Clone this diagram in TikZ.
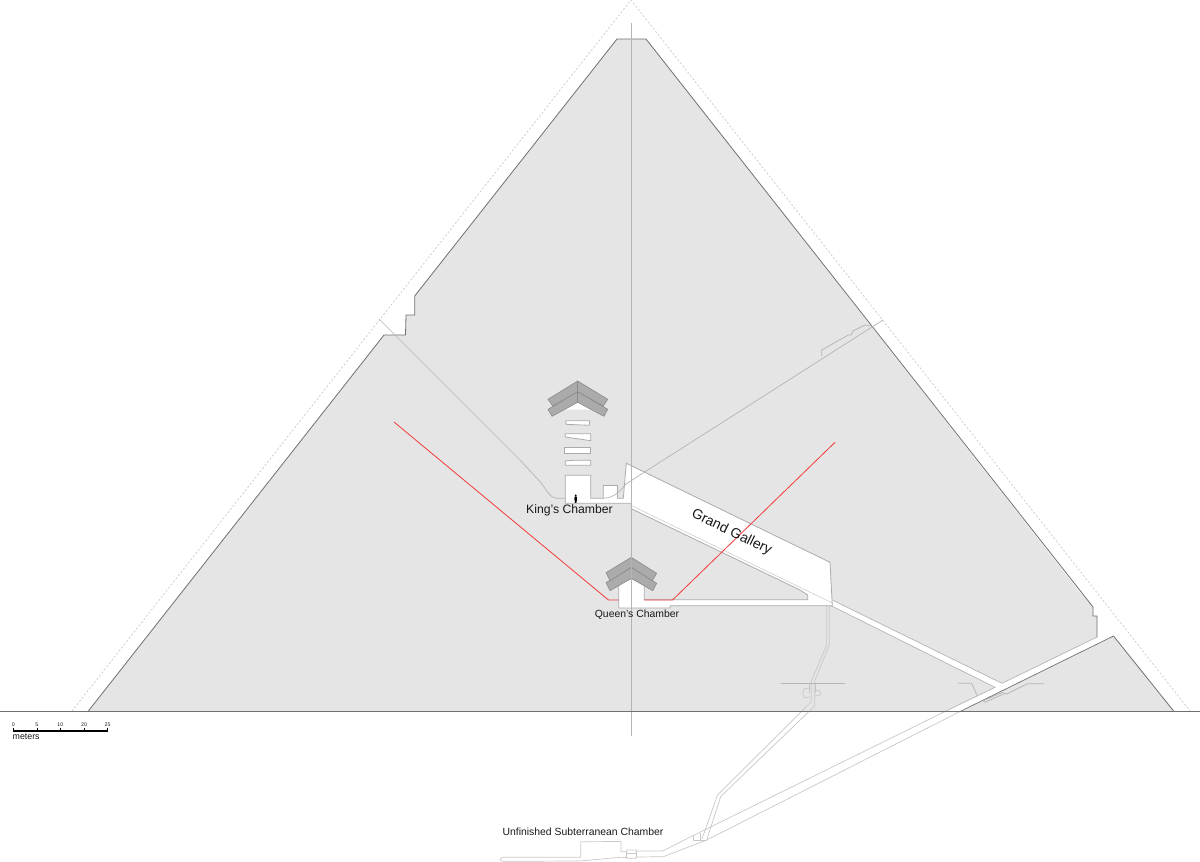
\documentclass[tikz,border=0pt]{standalone}
\usepackage{fontspec}
\setmainfont{Liberation Sans}
\definecolor{stone}{HTML}{E5E5E5}
\definecolor{edge}{HTML}{707070}
\definecolor{wall}{HTML}{ABABAB}
\definecolor{axisgray}{HTML}{B4B4B4}
\definecolor{faint}{HTML}{C8C8C8}
\definecolor{rafter}{HTML}{ABABAB}
\definecolor{raftedge}{HTML}{8A8A8A}
\definecolor{redline}{HTML}{F23A3A}
\tikzset{
 outer/.style={draw=edge,line width=0.8pt,line join=miter},
 room/.style={fill=white,draw=wall,line width=0.8pt,line join=miter},
 passage/.style={draw=faint,line width=0.7pt},
 shaft/.style={draw=axisgray,line width=0.7pt},
 raft/.style={fill=rafter,draw=raftedge,line width=0.6pt},
 lbl/.style={text=black!90,inner sep=0pt,anchor=center}
}
\begin{document}
\begin{tikzpicture}[x=1pt,y=-1pt]
\useasboundingbox (0,0) rectangle (1200,862);
% pyramid body
\fill[stone] (617,39)--(646,39)--(1078,590)--(1093,607)--(1093,616)--(1097,616)--(1097,637)--(1113.5,636)--(1174,711.5)--(88,711.5)--(384,335)--(405.5,335)--(406,315)--(414.7,315)--(414.7,296)--cycle;
% original casing
\draw[dash pattern=on 2pt off 2pt,draw=faint,line width=0.7pt] (72,711)--(631,0)--(1190,711);
% ascending and descending passage strips
\fill[white] (832.3,600)--(1002,683.3)--(1097,637)--(1113.5,636)--(960,711.5)--(945,711.5)--(995,687.3)--(831,605.7)--cycle;
\draw[outer] (88,711.5)--(384,335)--(405.5,335)--(406,315)--(414.7,315)--(414.7,296)--(617,39)--(646,39)--(1093,607)--(1093,616)--(1097,616)--(1097,637);
\draw[outer] (1113.5,636)--(1174,711.5);
\draw[shaft] (1097,637)--(1002,683.3)--(832.3,600);
\draw[shaft] (831,605.7)--(995,687.3)--(945,711.5);
\draw[draw=edge,line width=0.7pt] (1113.5,636)--(960,711.5);
% descending passage below ground
\draw[passage] (945,711.5)--(693.3,835.5)--(662.7,851)--(636,851)--(636,850)--(626.7,850)--(626.7,851.7)--(621,851.7)--(621,841.5)--(580.7,841.7)--(580.7,857.3)--(503.3,857.3) .. controls (499,858) and (499,860.5) .. (503,861.3)--(580,861)--(620,857.3)--(626.7,857.5)--(626.7,858.3)--(636,858.3)--(636,857)--(663.3,856.7)--(706.7,840)--(960,711.5);
\draw[passage] (626.7,851.7)--(626.7,857.5) (636,851)--(636,857) (626.7,853)--(636,853);
\draw[passage] (693.3,835.5)--(693.3,840.7)--(706.7,840.7);
\draw[passage] (700,833)--(700,840.7);
% well shaft
\draw[passage] (826.7,606)--(826.7,645)--(811.3,681)--(811.3,701.7)--(717.5,795)--(702,839);
\draw[passage] (829.3,606)--(829.3,645)--(814.7,681)--(814.7,706)--(720.7,796.5)--(707,839);
\draw[shaft,line width=0.5pt] (781,683.3)--(845,683.3);
\draw[passage] (804,689) .. controls (802,694) and (803,697) .. (805,697.5)--(811,697) (811,688)--(805,688.5)--(804,689);
\draw[passage] (815,690)--(820,691) .. controls (821,693) and (821,695) .. (820,695)--(815,696);
\draw[passage] (809.5,684)--(809.5,693) (815.5,684)--(815.5,693);
% gallery and chambers
\draw[room] (626.3,463.3)--(830,562.3)--(832.3,605.7)--(670.3,605.7)--(670,608)--(618.7,608)--(618.7,585)--(631.3,578.5)--(644.3,585)--(644.3,599.7)--(807.7,599.7)--(807.7,595)--(800,590)--(631.3,508.7)--(631.3,503.3)--(565.3,503.3)--(565.3,475.3)--(590.7,475.3)--(590.7,498.3)--(603.3,498.3)--(603.3,485.5)--(617.5,485.5)--(617.5,498.3)--(623.3,498.3)--cycle;
\draw[draw=faint,line width=0.5pt] (631.3,505.5)--(832.3,603);
% relieving chambers
\draw[room] (565.7,420.7)--(589.7,420.7)--(589.3,425.3)--(566,424.3)--cycle;
\draw[room] (565.3,433.7)--(590.7,433.7)--(590.7,440.7)--(581.3,439.3)--(565.3,437)--cycle;
\draw[room] (564.3,447.7)--(590.7,447.7)--(590.7,453.7)--(564.3,453.7)--cycle;
\draw[room] (565.3,461)--(573.3,460.3)--(590.7,460.3)--(590.7,465.3)--(565.3,465.3)--cycle;
\fill[white] (565,409.7)--(577.7,402.3)--(590,409.7)--cycle;
% rafters
\draw[raft] (577.7,391.7)--(607.7,409.3)--(604,416.3)--(577.7,402.3)--(552,416.3)--(548,409.3)--cycle;
\draw[raft] (577.7,381)--(607.7,399.3)--(603.3,406)--(577.7,391.7)--(552.7,406)--(548,399.3)--cycle;
\draw[raftedge,line width=0.5pt] (577.7,381)--(577.7,402.3);
\draw[raft] (631.3,567.3)--(656.7,583.3)--(652.7,590.7)--(631.3,578.3)--(610,590.7)--(606,582.7)--cycle;
\draw[raft] (631.3,557.3)--(656.7,573.3)--(652.3,580.7)--(631.3,567.3)--(610,580.7)--(606,572.7)--cycle;
% air shafts
\draw[shaft] (379,319)--(520,460)--(540,481.7)..controls (547,490) and (550,498.3) .. (556.7,498.3)--(565.3,498.3);
\draw[shaft] (603.3,498.3) .. controls (612,498) and (618,494) .. (626,484)--(643,473)--(883,320);
\draw[passage,draw=axisgray] (821.7,356)--(821.7,350)--(848.3,335)--(851,335)--(853,331)--(865,325)--(871.7,326);
\draw[passage,draw=axisgray] (958.3,683.3)--(971.7,683.3)--(977.3,696);
\draw[passage,draw=axisgray] (983.3,700.7)--(985,702.3)--(1005,693.3)--(1006.7,694)--(1027.3,683.7)--(1044,683.7);
\draw[passage,draw=axisgray] (983.3,700.7)--(1003.3,692);
% axis and ground
\draw[draw=axisgray,line width=0.7pt] (631,23)--(631,736);
\draw[draw=edge,line width=0.9pt] (0,711.5)--(1200,711.5);
% human figure
\fill[black] (575.7,495.3) circle (1) (574.6,496.5)--(576.8,496.5)--(577,499)--(576.4,502.8)--(575,502.8)--(574.4,499)--cycle;
% red line
\draw[redline,line width=0.8pt] (394,422)--(608.5,600)--(618.7,600);
\draw[redline,line width=0.8pt] (644.3,600)--(672.5,600)--(835,442.3);
% labels
\node[lbl,font=\fontsize{12.2}{14}\selectfont] (king) at (569.5,510.8) {King's Chamber};
\node[lbl,font=\fontsize{10.4}{12}\selectfont] (queen) at (637,614.8) {Queen's Chamber};
\node[lbl,font=\fontsize{14}{16}\selectfont,rotate=-26] (gallery) at (731.5,532.5) {Grand Gallery};
\node[lbl,font=\fontsize{10.4}{12}\selectfont] (unfinished) at (583,831.5) {Unfinished Subterranean Chamber};
% scale bar
\draw[black,line width=1.5pt] (13,731)--(108,731);
\foreach \px/\t/\n in {13.3/0/sa,36.7/5/sb,60.3/10/sc,84/20/sd,107.5/25/se}{
 \draw[black,line width=0.3pt] (\px,727.5)--(\px,731);
 \node[lbl,font=\fontsize{5.2}{6}\selectfont] (\n) at (\px,724.5) {\t};
}
\node[lbl,font=\fontsize{8.8}{10}\selectfont,anchor=west] (meters) at (12.5,736.5) {meters};
\end{tikzpicture}
\end{document}
